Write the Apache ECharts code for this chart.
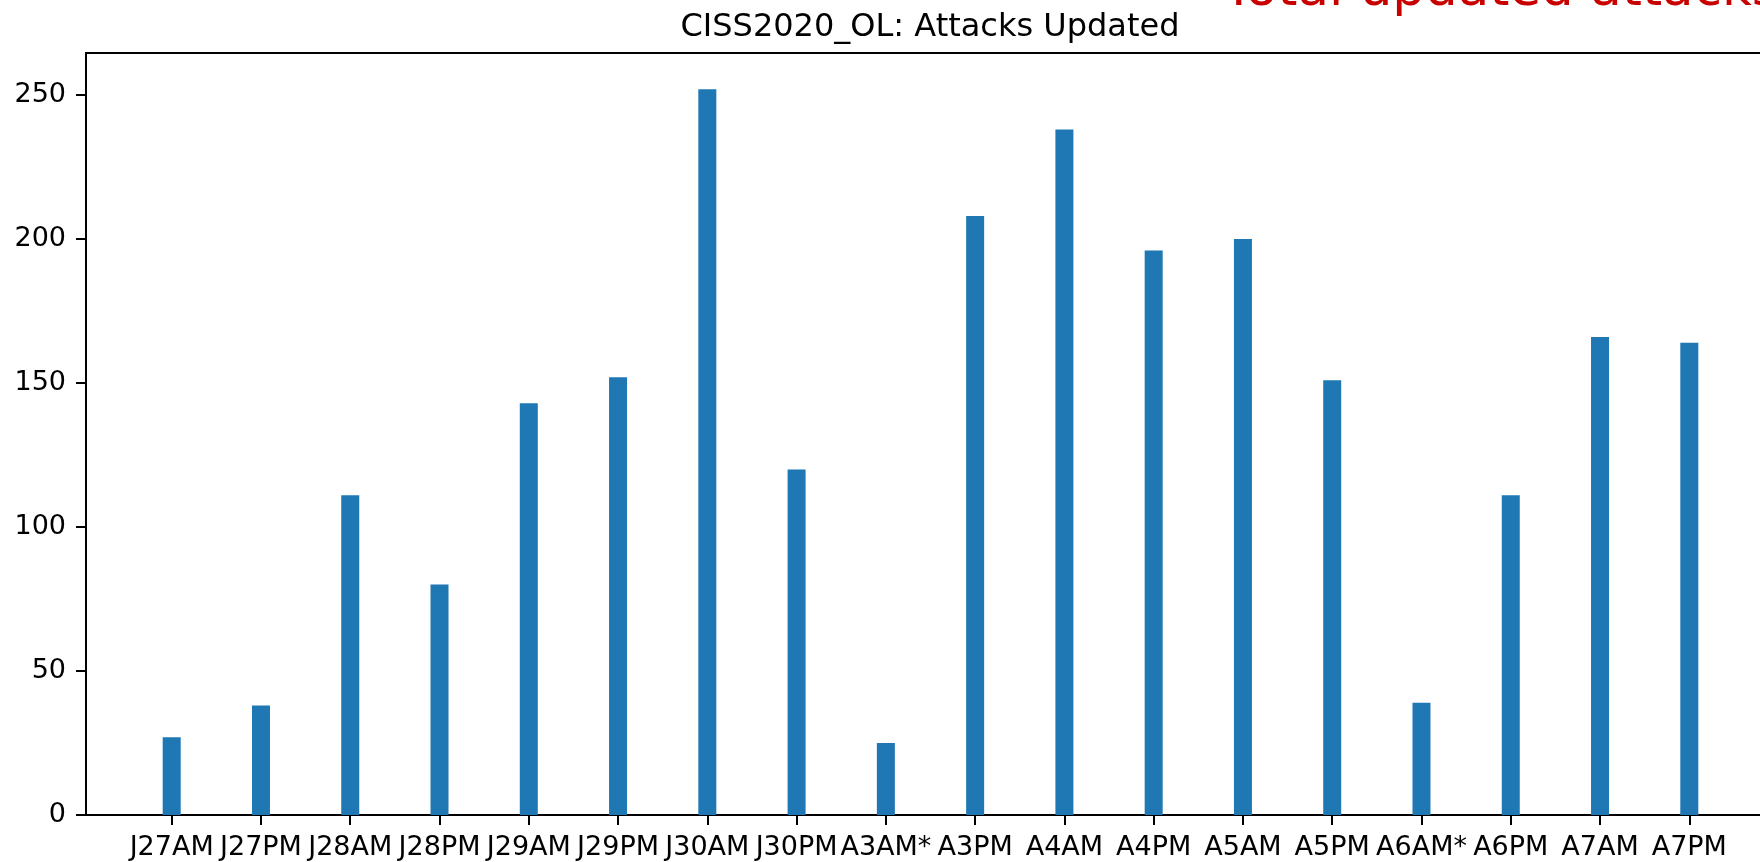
<!DOCTYPE html>
<html>
<head>
<meta charset="utf-8">
<script src="https://cdn.jsdelivr.net/npm/echarts@6/dist/echarts.min.js"></script>
<style>
  html, body { margin: 0; padding: 0; background: #ffffff; }
  #chart { width: 1760px; height: 862px; }
</style>
</head>
<body>
<div id="chart"></div>
<script>
// Sessions (x axis) and number of updated attacks per session
const categories = ['J27AM', 'J27PM', 'J28AM', 'J28PM', 'J29AM', 'J29PM', 'J30AM', 'J30PM',
                    'A3AM*', 'A3PM', 'A4AM', 'A4PM', 'A5AM', 'A5PM', 'A6AM*', 'A6PM', 'A7AM', 'A7PM'];
const attacks = [27, 38, 111, 80, 143, 152, 252, 120, 25, 208, 238, 196, 200, 151, 39, 111, 166, 164];
const yTickValues = [0, 50, 100, 150, 200, 250];

const chartTitle = 'CISS2020_OL: Attacks Updated';
const totalLabel = 'Total updated attacks: ' + attacks.reduce((a, b) => a + b, 0);

// Bars sit at integer positions 0..n-1, each 0.2 wide; axis limits get a 5% margin.
const xPositions = categories.map((_, i) => i);
const barHalf = 0.1;
const xSpan = (categories.length - 1) + 2 * barHalf;
const xMin = -barHalf - 0.05 * xSpan;
const xMax = (categories.length - 1) + barHalf + 0.05 * xSpan;
const yMax = Math.max(...attacks) * 1.05;

const FONT = '"DejaVu Sans", "Liberation Sans", sans-serif';

const chart = echarts.init(document.getElementById('chart'), null, { renderer: 'canvas' });

chart.setOption({
  animation: false,
  backgroundColor: '#ffffff',
  textStyle: { fontFamily: FONT },
  grid: {
    left: 86,
    width: 1689,          // plot frame runs past the right edge of the page
    top: 53,
    bottom: 47,
    outerBoundsMode: 'none',
    containLabel: false,
    show: true,
    borderColor: '#000000',
    borderWidth: 2,
    backgroundColor: 'transparent'
  },
  xAxis: {
    type: 'value',
    min: xMin,
    max: xMax,
    splitLine: { show: false },
    axisLine: { show: true, onZero: false, lineStyle: { color: '#000000', width: 2 } },
    axisTick: {
      show: true,
      length: 10,
      lineStyle: { color: '#000000', width: 2 },
      customValues: xPositions
    },
    axisLabel: {
      show: true,
      color: '#000000',
      fontSize: 27,
      fontFamily: FONT,
      margin: 19,
      hideOverlap: false,
      customValues: xPositions,
      formatter: (v) => categories[Math.round(v)]
    }
  },
  yAxis: {
    type: 'value',
    min: 0,
    max: yMax,
    splitLine: { show: false },
    axisLine: { show: true, onZero: false, lineStyle: { color: '#000000', width: 2 } },
    axisTick: {
      show: true,
      length: 10,
      lineStyle: { color: '#000000', width: 2 },
      customValues: yTickValues
    },
    axisLabel: {
      show: true,
      color: '#000000',
      fontSize: 27,
      fontFamily: FONT,
      margin: 20,
      customValues: yTickValues,
      formatter: (v) => String(v)
    }
  },
  series: [{
    type: 'bar',
    data: attacks.map((v, i) => [xPositions[i], v]),
    barWidth: 18,
    itemStyle: { color: '#1f77b4' },
    emphasis: { disabled: true }
  }],
  graphic: [
    {
      type: 'text',
      x: 930,
      y: 28,
      style: {
        text: chartTitle,
        fontSize: 32,
        fontFamily: FONT,
        fill: '#000000',
        align: 'center',
        verticalAlign: 'middle'
      }
    },
    {
      type: 'text',
      x: 1223,
      y: -8,
      style: {
        text: totalLabel,
        fontSize: 51.5,
        fontFamily: FONT,
        fill: '#c80000',
        align: 'left',
        verticalAlign: 'middle'
      }
    }
  ]
});
</script>
</body>
</html>
